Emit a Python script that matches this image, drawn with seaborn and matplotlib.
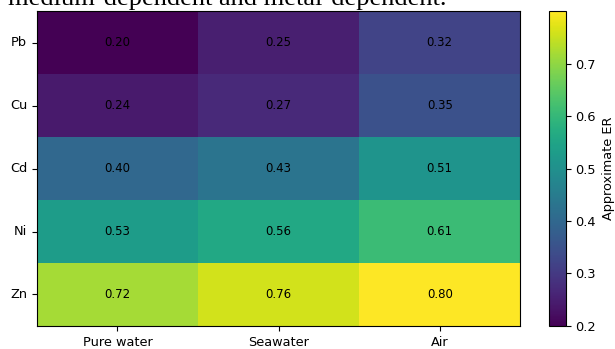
import matplotlib
matplotlib.use("Agg")
import matplotlib.pyplot as plt
import seaborn as sns
import pandas as pd
import numpy as np

metals = ["Pb", "Cu", "Cd", "Ni", "Zn"]
media = ["Pure water", "Seawater", "Air"]
pure_water = [0.20, 0.24, 0.40, 0.53, 0.72]
seawater = [0.25, 0.27, 0.43, 0.56, 0.76]
air = [0.32, 0.35, 0.51, 0.61, 0.80]

df = pd.DataFrame({"Pure water": pure_water, "Seawater": seawater, "Air": air}, index=metals)

fig = plt.figure(figsize=(6.15, 3.49), dpi=100)
ax = fig.add_axes([0.060, 0.066, 0.786, 0.902])
cax = fig.add_axes([0.893, 0.066, 0.027, 0.902])

sns.heatmap(df, ax=ax, cbar_ax=cax, cmap="viridis", vmin=0.2, vmax=0.8,
            annot=True, fmt=".2f", annot_kws={"color": "black", "fontsize": 8.5})

for s in ax.spines.values():
    s.set_visible(True)
    s.set_linewidth(0.8)
    s.set_color("black")
ax.tick_params(axis="both", length=3.5, width=0.8, labelsize=9.3)
ax.set_yticklabels(metals, rotation=0)
ax.set_xticklabels(media, rotation=0)
ax.set_xlabel("")
ax.set_ylabel("")

cbar = ax.collections[0].colorbar
cbar.set_label("Approximate ER", fontsize=9.3)
cbar.ax.tick_params(labelsize=9.3, length=3.5, width=0.8)
cbar.set_ticks([0.2, 0.3, 0.4, 0.5, 0.6, 0.7])
cbar.outline.set_visible(True)
cbar.outline.set_linewidth(0.8)

fig.text(0.013, 1 - 5.5 / 349, "medium-dependent and metal-dependent.", fontsize=19,
         family="Liberation Serif", va="baseline", ha="left")

fig.savefig("out.png", dpi=100)
